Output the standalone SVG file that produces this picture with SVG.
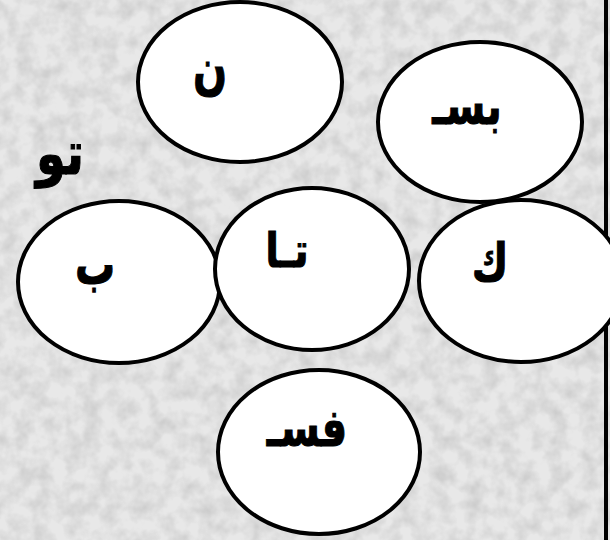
<svg xmlns="http://www.w3.org/2000/svg" width="610" height="540" viewBox="0 0 610 540">
<defs>
<filter id="granite" x="0" y="0" width="100%" height="100%">
<feTurbulence type="fractalNoise" baseFrequency="0.06" numOctaves="3" seed="7" result="n"/>
<feColorMatrix type="matrix" in="n" values="0 0 0 0 0  0 0 0 0 0  0 0 0 0 0  0 0 0 -1.6 1.05" result="a"/>
<feFlood flood-color="#b9b9b9"/>
<feComposite in2="a" operator="in"/>
</filter>
</defs>
<style>
.node ellipse{fill:#ffffff;stroke:#000000;stroke-width:4}
.lbl{font-family:"DejaVu Sans",sans-serif;font-weight:bold;font-size:40px;fill:#000000;stroke:#000000;stroke-width:0.8;text-anchor:middle;direction:rtl}
</style>
<rect x="0" y="0" width="610" height="540" fill="#e8e8e8"/>
<rect x="0" y="0" width="610" height="540" filter="url(#granite)" opacity="0.65"/>
<line x1="606" y1="0" x2="606" y2="540" stroke="#000000" stroke-width="4"/>
<g id="connectors"></g>
<text class="lbl" transform="translate(60,174) scale(1.2,1.5)" x="0" y="0" font-size="46">تو</text>
<g id="node-n" class="node"><ellipse cx="240" cy="82" rx="102" ry="80"/><text class="lbl" transform="translate(210,88) scale(1,1.4)" x="0" y="0">ن</text></g>
<g id="node-bs" class="node"><ellipse cx="480" cy="122" rx="102" ry="80"/><text class="lbl" transform="translate(467,124) scale(1,1.3)" x="0" y="0">بسـ</text></g>
<g id="node-b" class="node"><ellipse cx="119" cy="282" rx="101" ry="81"/><text class="lbl" transform="translate(95,284) scale(1,1.4)" x="0" y="0">ب</text></g>
<g id="node-k" class="node"><ellipse cx="521" cy="281" rx="102" ry="81"/><text class="lbl" transform="translate(490,281) scale(1,1.3)" x="0" y="0">ك</text></g>
<g id="node-ta" class="node"><ellipse cx="312" cy="269" rx="97" ry="81"/><text class="lbl" transform="translate(287,267) scale(1,1.2)" x="0" y="0">تـا</text></g>
<g id="node-fs" class="node"><ellipse cx="319" cy="452" rx="101" ry="82"/><text class="lbl" transform="translate(307,446) scale(1,1.3)" x="0" y="0">فسـ</text></g>
</svg>
